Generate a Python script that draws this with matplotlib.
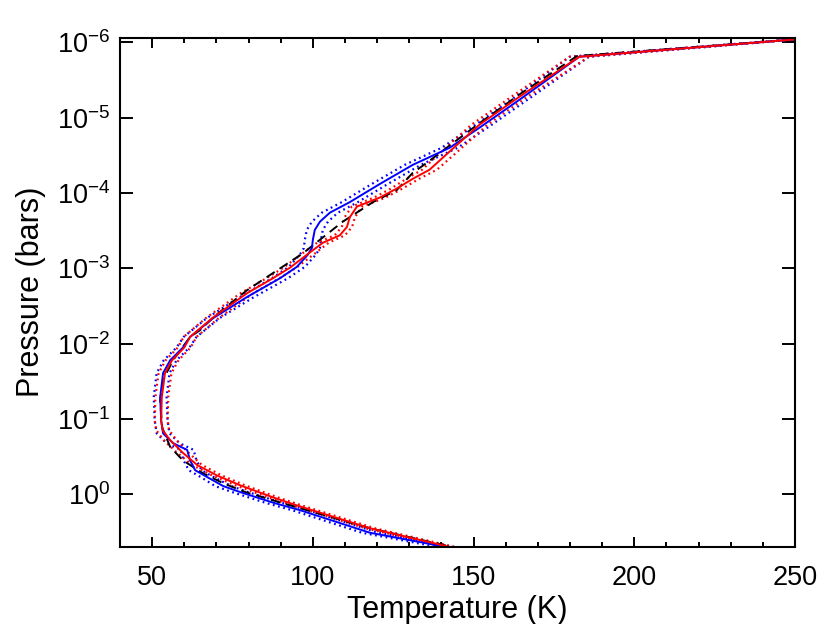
import numpy as np
import matplotlib
matplotlib.use("Agg")
import matplotlib.pyplot as plt
from matplotlib.ticker import FixedLocator, NullLocator, MultipleLocator, FuncFormatter

plt.rcParams['font.family'] = ['Liberation Sans', 'DejaVu Sans']
plt.rcParams['mathtext.fontset'] = 'custom'
plt.rcParams['mathtext.rm'] = 'Liberation Sans'
plt.rcParams['mathtext.it'] = 'Liberation Sans:italic'
plt.rcParams['mathtext.bf'] = 'Liberation Sans:bold'

# ---- data (temperature K, log10 pressure bars) ----
ref_T = [250, 182.2, 164.3, 151.9, 139.4, 135.4, 131.1, 126.1, 118.7, 109.3, 102.2, 96.9, 89.8, 79.5, 69.0, 64.9,
         61.8, 56.5, 53.4, 52.5, 53.1, 55.6, 59.6, 65.8, 72.0, 79.0, 90.0, 117.8, 143.5]
ref_logP = [-6.04, -5.82, -5.31, -4.93, -4.53, -4.40, -4.27, -4.04, -3.88, -3.62, -3.38, -3.20, -3.00, -2.71, -2.35, -2.18,
            -2.09, -1.78, -1.52, -1.25, -0.89, -0.63, -0.45, -0.28, -0.15, -0.03, 0.11, 0.45, 0.70]

blue_T = [250, 182.9, 164.3, 151.9, 142.5, 131.1, 120.8, 111.5, 105.3, 102.2, 100.6, 100.0, 99.7, 98.4, 95.0,
          89.8, 79.5, 69.0, 61.8, 59.6, 55.6, 53.4, 52.5, 52.8, 53.4, 56.5, 60.9, 61.8, 63.4, 67.1, 72.1,
          77.4, 87.6, 96.0, 117.8, 141.6]
blue_logP = [-6.04, -5.81, -5.24, -4.87, -4.60, -4.375, -4.12, -3.88, -3.74, -3.62, -3.51, -3.38, -3.27, -3.18, -3.02,
             -2.87, -2.62, -2.34, -2.09, -1.95, -1.78, -1.61, -1.29, -0.98, -0.81, -0.68, -0.59, -0.45, -0.32, -0.23, -0.11,
             -0.03, 0.11, 0.21, 0.51, 0.70]
blue_err = [0.3, 3.0, 2.5, 2.5, 2.5, 2.5, 2.5, 2.5, 2.5, 2.5, 2.5, 2.5, 2.5, 2.5, 2.5,
            2.5, 2.2, 2.0, 2.0, 2.0, 2.0, 2.0, 2.0, 2.0, 2.0, 2.0, 2.0, 2.0, 2.0, 2.0, 2.5,
            2.5, 2.5, 2.5, 2.5, 2.5]

red_T = [250, 182.9, 164.3, 151.9, 142.5, 136.3, 131.1, 126.1, 120.8, 113.7, 111.5, 110.6, 108.4, 103.1, 98.1,
         92.9, 87.6, 79.5, 69.0, 61.8, 60.0, 56.2, 54.0, 53.0, 52.8, 53.3, 55.6, 59.6, 64.0, 70.2, 77.4,
         87.6, 96.0, 117.8, 142.8]
red_logP = [-6.04, -5.81, -5.28, -4.91, -4.55, -4.31, -4.19, -4.06, -3.94, -3.82, -3.68, -3.55, -3.44, -3.34, -3.18,
            -3.01, -2.87, -2.67, -2.35, -2.09, -1.95, -1.78, -1.61, -1.29, -0.98, -0.85, -0.72, -0.55, -0.39, -0.25, -0.12,
            0.04, 0.16, 0.45, 0.70]
red_err = [0.3, 3.0, 2.5, 2.5, 2.5, 2.3, 2.0, 1.8, 1.8, 1.6, 1.6, 1.6, 1.6, 1.8, 2.0,
           2.0, 2.0, 2.0, 2.0, 2.0, 2.0, 2.0, 2.0, 2.0, 2.0, 2.0, 2.0, 1.8, 1.5, 1.5, 1.5,
           1.5, 1.5, 1.5, 1.5]

yticks = [1e-6, 1e-5, 1e-4, 1e-3, 1e-2, 1e-1, 1e0]

# ---- figure ----
fig = plt.figure(figsize=(8.3, 6.24), dpi=100)
ax = fig.add_axes([120/830, 77/624, 675/830, 509.5/624])

def P(lp):
    return 10**np.asarray(lp, dtype=float)

bT, bE = np.asarray(blue_T), np.asarray(blue_err)
rT, rE = np.asarray(red_T), np.asarray(red_err)

dot = (0, (0.8, 1.6))
ax.plot(bT - bE, P(blue_logP), color='blue', lw=1.6, ls=dot)
ax.plot(bT + bE, P(blue_logP), color='blue', lw=1.6, ls=dot)
ax.plot(rT - rE, P(red_logP), color='red', lw=1.6, ls=dot)
ax.plot(rT + rE, P(red_logP), color='red', lw=1.6, ls=dot)
ax.plot(ref_T, P(ref_logP), color='black', lw=1.4, ls=(0, (5, 3)))
ax.plot(bT, P(blue_logP), color='blue', lw=1.4)
ax.plot(rT, P(red_logP), color='red', lw=1.4)

ax.set_yscale('log')
ax.set_xlim(40, 250)
ax.set_ylim(5.0, 8.6e-7)

ax.yaxis.set_major_locator(FixedLocator(yticks))
ax.yaxis.set_minor_locator(NullLocator())
ax.yaxis.set_major_formatter(FuncFormatter(lambda v, p: r'$10^{%d}$' % int(round(np.log10(v)))))
ax.xaxis.set_major_locator(MultipleLocator(50))
ax.xaxis.set_minor_locator(MultipleLocator(10))

for s in ax.spines.values():
    s.set_linewidth(1.5)
ax.tick_params(which='both', direction='in', top=True, right=True, width=1.4, labelsize=19.5)
ax.tick_params(axis='x', which='major', length=7.5, pad=13)
ax.tick_params(axis='x', which='minor', length=3.8)
ax.tick_params(axis='y', which='major', length=9.5, pad=7)

ax.set_xlabel('Temperature (K)', fontsize=22, labelpad=3)
ax.set_ylabel('Pressure (bars)', fontsize=22, labelpad=8)

fig.savefig('out.png', dpi=100)
